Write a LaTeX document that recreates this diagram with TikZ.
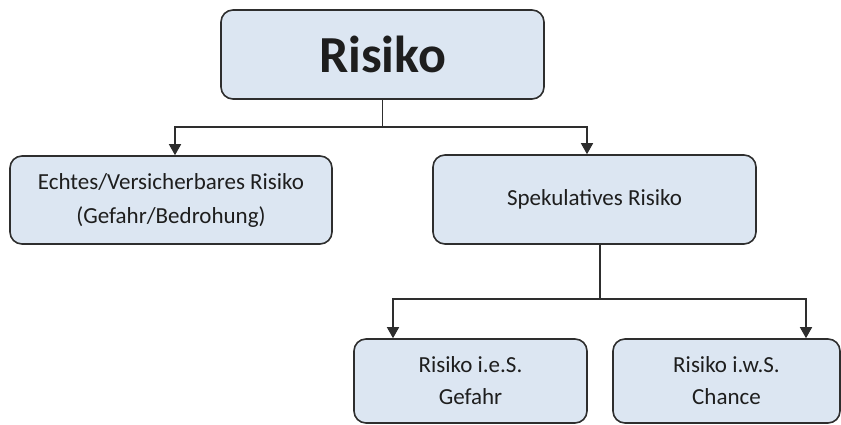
\documentclass[tikz,border=0pt]{standalone}
\usepackage{fontspec}
\setmainfont{Carlito}
\usetikzlibrary{arrows.meta,calc}
\definecolor{boxfill}{HTML}{DCE6F2}
\definecolor{boxline}{HTML}{2E2E2E}
\definecolor{txt}{HTML}{1E1E1E}
\tikzset{
  box/.style={draw=boxline, line width=1.6pt, fill=boxfill, rounded corners=12pt,
    inner sep=0pt, align=center, text=txt, font=\fontsize{23}{34}\selectfont},
  conn/.style={draw=boxline, line width=1.5pt, -{Triangle[length=11pt,width=12pt]}},
  plain/.style={draw=boxline, line width=1.5pt}
}
\begin{document}
\begin{tikzpicture}[x=1pt,y=-1pt]
\useasboundingbox (0,0) rectangle (841,424);
\node[box, minimum width=323pt, minimum height=89pt, font=\fontsize{52}{56}\bfseries\selectfont] (top) at (382.5,54.5) {Risiko};
\node[box, minimum width=322pt, minimum height=88pt] (left) at (171,200) {Echtes/Versicherbares Risiko\\(Gefahr/Bedrohung)};
\node[box, minimum width=323pt, minimum height=89pt] (right) at (594.5,199.5) {Spekulatives Risiko};
\node[box, minimum width=233pt, minimum height=84pt, font=\fontsize{23}{32}\selectfont] (bl) at (470.5,381) {Risiko i.e.S.\\Gefahr};
\node[box, minimum width=227pt, minimum height=84pt, font=\fontsize{23}{32}\selectfont] (br) at (726.5,381) {Risiko i.w.S.\\Chance};
\coordinate (j1) at ($(top.south)+(0,27)$);
\coordinate (j2) at ($(right.south)+(5.5,54)$);
\draw[plain] (top.south) -- (j1);
\draw[conn] (j1) -| ([xshift=4pt]left.north);
\draw[conn] (j1) -| ([xshift=-7.5pt]right.north);
\draw[plain] ([xshift=5.5pt]right.south) -- (j2);
\draw[conn] (j2) -| ([xshift=-77.5pt]bl.north);
\draw[conn] (j2) -| ([xshift=79.5pt]br.north);
\end{tikzpicture}
\end{document}
